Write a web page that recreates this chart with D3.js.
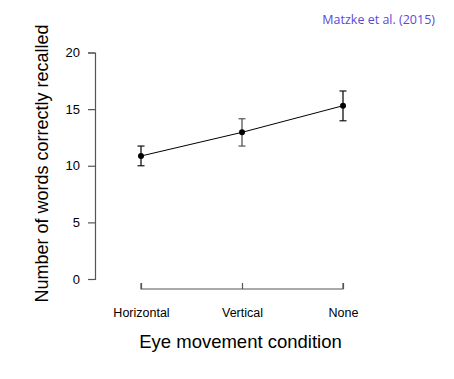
<!DOCTYPE html>
<html><head><meta charset="utf-8">
<script src="https://cdn.jsdelivr.net/npm/d3@7"></script>
<style>body{margin:0;background:#fff}svg{display:block}</style>
</head><body>
<script>
const categories = ["Horizontal", "Vertical", "None"];
const means = [10.86, 12.95, 15.3];
const upper = [11.74, 14.15, 16.6];
const lower = [10.0, 11.74, 13.97];
const yTicks = [0, 5, 10, 15, 20];

const W = 454, H = 379;
const svg = d3.select("body").append("svg").attr("width", W).attr("height", H);
const font = "'Liberation Sans', Arial, sans-serif";

const x = d3.scalePoint().domain(categories).range([141, 343]);
const y = d3.scaleLinear().domain([0, 20]).range([279, 52.5]);
const axisColor = "#555";

// y axis
const ya = svg.append("g").attr("transform", "translate(95,0)")
  .call(d3.axisLeft(y).tickValues(yTicks).tickSize(7).tickPadding(8));
ya.select(".domain").attr("stroke", axisColor).attr("stroke-width", 1.2);
ya.selectAll(".tick line").attr("stroke", axisColor).attr("stroke-width", 1.2);
ya.selectAll("text").attr("font-family", font).attr("font-size", 13).attr("fill", "#000");

// x axis
const xa = svg.append("g").attr("transform", "translate(0,289)")
  .call(d3.axisBottom(x).tickSize(-6).tickSizeOuter(0).tickPadding(0));
xa.select(".domain").attr("stroke", axisColor).attr("stroke-width", 1.2)
  .attr("d", `M${x(categories[0])},-6V0H${x(categories[2])}V-6`);
xa.selectAll(".tick line").attr("stroke", axisColor).attr("stroke-width", 1.2);
xa.selectAll("text").attr("font-family", font).attr("font-size", 12.5).attr("fill", "#000")
  .attr("y", 0).attr("dy", 0).attr("transform", "translate(0,27.5)");

// line
svg.append("path").datum(categories)
  .attr("d", d3.line().x(d => x(d)).y((d, i) => y(means[i])))
  .attr("fill", "none").attr("stroke", "#000").attr("stroke-width", 1);

// error bars
const eb = svg.append("g");
categories.forEach((c, i) => {
  const cx = x(c);
  const col = i === 1 ? "#555" : "#111";
  eb.append("line").attr("x1", cx).attr("x2", cx).attr("y1", y(upper[i])).attr("y2", y(lower[i])).attr("stroke", col).attr("stroke-width", 1.3);
  [upper[i], lower[i]].forEach(v => {
    eb.append("line").attr("x1", cx - 3.5).attr("x2", cx + 3.5).attr("y1", y(v)).attr("y2", y(v)).attr("stroke", col).attr("stroke-width", 1.2);
  });
});

// points
svg.append("g").selectAll("circle").data(categories).join("circle")
  .attr("cx", d => x(d)).attr("cy", (d, i) => y(means[i])).attr("r", 3).attr("fill", "#000");

// axis titles
svg.append("text").attr("x", 240.5).attr("y", 348).attr("text-anchor", "middle")
  .attr("font-family", font).attr("font-size", 18.5).text("Eye movement condition");
svg.append("text").attr("transform", "translate(48,163.5) rotate(-90)").attr("text-anchor", "middle")
  .attr("font-family", font).attr("font-size", 18).text("Number of words correctly recalled");

// citation
svg.append("text").attr("x", 435).attr("y", 24).attr("text-anchor", "end")
  .attr("font-family", "'Open Sans', sans-serif").attr("font-size", 12.5).attr("fill", "#5b48d6")
  .text("Matzke et al. (2015)");
</script>
</body></html>
